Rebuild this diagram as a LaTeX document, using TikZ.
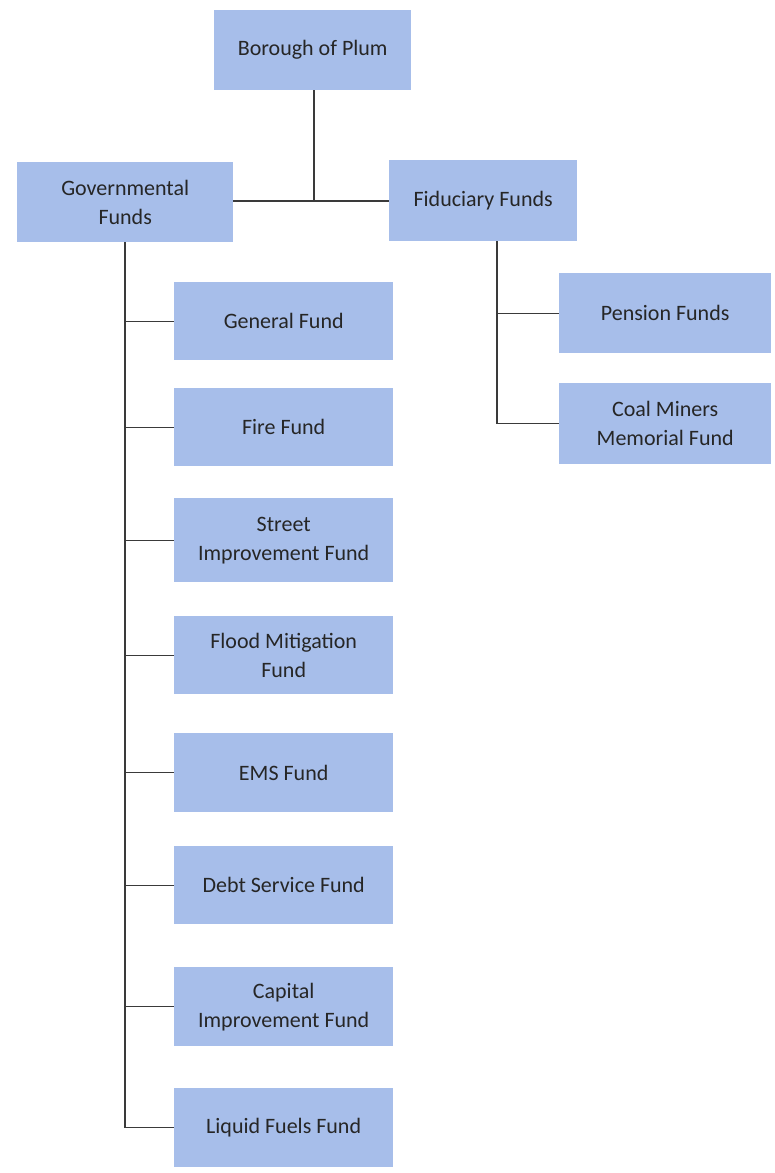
\documentclass[tikz,border=0pt]{standalone}
\usepackage{fontspec}
\setmainfont{Carlito}
\definecolor{boxfill}{HTML}{A7BEEA}
\definecolor{txt}{HTML}{262626}
\definecolor{ln}{HTML}{3A3A3A}
\begin{document}
\begin{tikzpicture}[x=1pt,y=-1pt,
  fund/.style={draw=none,fill=boxfill,minimum width=219pt,minimum height=79pt,inner sep=0pt,
    text=txt,font=\fontsize{22}{29}\selectfont,align=center,anchor=north west},
  conn/.style={draw=ln,line width=1.4pt}]
\useasboundingbox (0,0) rectangle (774,1173);
\node[fund,minimum width=197pt,minimum height=80pt] (bor) at (214,10) {Borough of Plum};
\node[fund,minimum width=216pt,minimum height=80pt] (gov) at (17,162) {Governmental\\Funds};
\node[fund,minimum width=188pt,minimum height=81pt] (fid) at (389,160) {Fiduciary Funds};
\node[fund,minimum width=212pt,minimum height=80pt] (pen) at (559,273) {Pension Funds};
\node[fund,minimum width=212pt,minimum height=81pt] (coal) at (559,383) {Coal Miners\\Memorial Fund};
\node[fund,minimum height=78pt] (gen) at (174,282) {General Fund};
\node[fund,minimum height=78pt] (fire) at (174,388) {Fire Fund};
\node[fund,minimum height=84pt] (street) at (174,498) {Street\\Improvement Fund};
\node[fund,minimum height=78pt] (flood) at (174,616) {Flood Mitigation\\Fund};
\node[fund,minimum height=79pt] (ems) at (174,733) {EMS Fund};
\node[fund,minimum height=78pt] (debt) at (174,846) {Debt Service Fund};
\node[fund,minimum height=79pt] (cap) at (174,967) {Capital\\Improvement Fund};
\node[fund,minimum height=79pt] (liq) at (174,1088) {Liquid Fuels Fund};
\coordinate (j) at (314,201);
\coordinate (gv) at (125,0);
\coordinate (fv) at (497,0);
\draw[conn] (bor.south -| j) -- (j);
\draw[conn] (gov.east |- j) -- (fid.west |- j);
\draw[conn] (gov.south -| gv) -- (gv |- liq.west) -- (liq.west);
\foreach \n in {gen,fire,street,flood,ems,debt,cap}
  \draw[conn] (gv |- \n.west) -- (\n.west);
\draw[conn] (fid.south -| fv) -- (fv |- coal.west) -- (coal.west);
\draw[conn] (fv |- pen.west) -- (pen.west);
\end{tikzpicture}
\end{document}
